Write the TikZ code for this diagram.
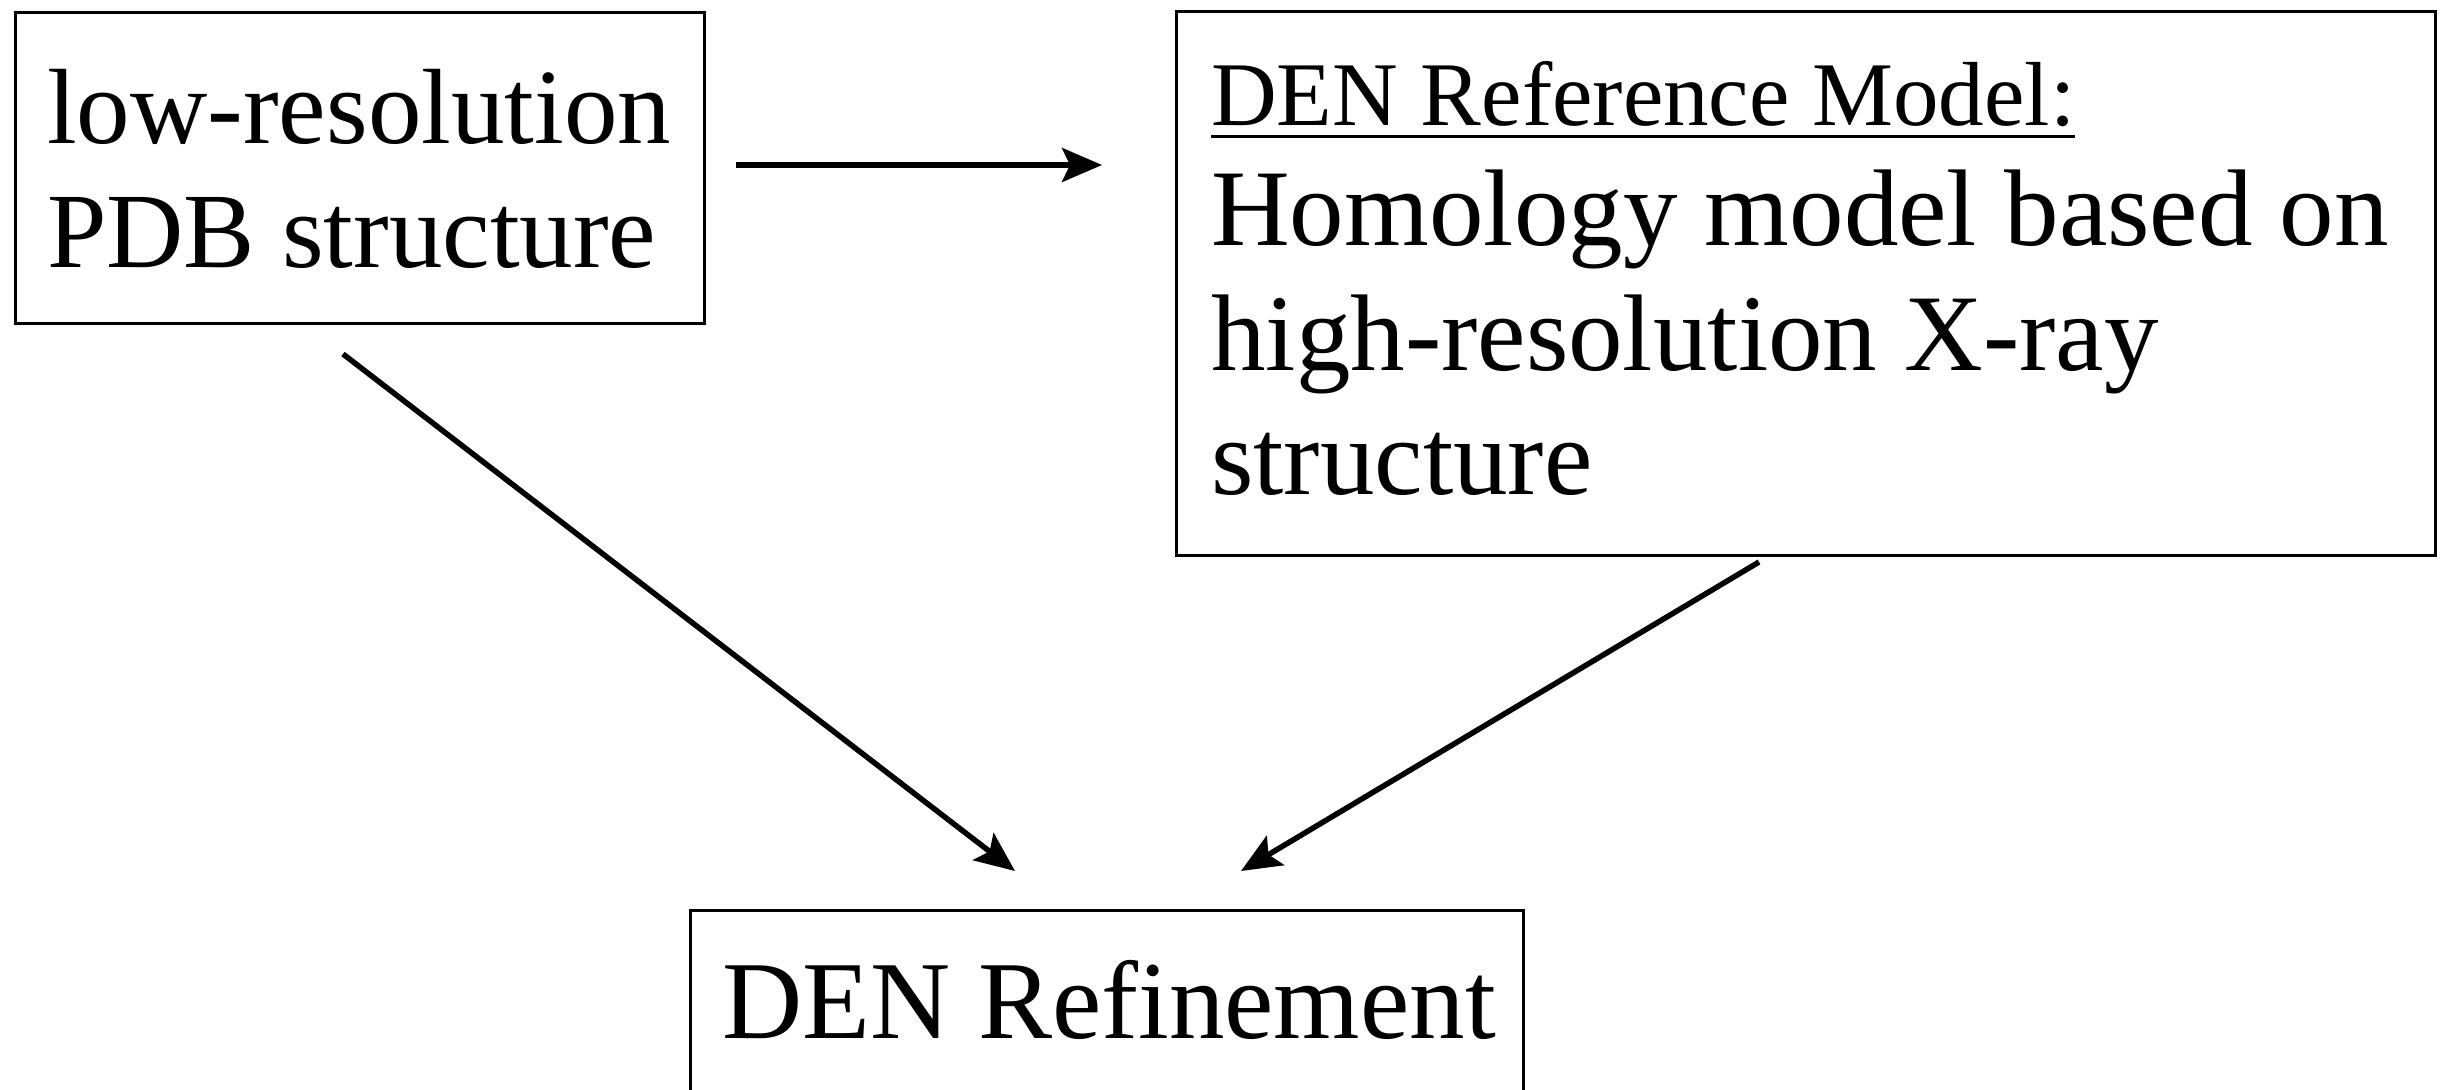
\documentclass[tikz,border=0pt]{standalone}
\usepackage{fontspec}
\setmainfont{Liberation Serif}
\usetikzlibrary{arrows.meta}
\newcommand{\myul}[1]{\setbox0\hbox{#1}\rlap{\copy0}\rule[-12pt]{\wd0}{3.5pt}}
\tikzset{
  box/.style={draw=black, line width=3pt, inner sep=0pt, rectangle},
  txt/.style={inner sep=0pt, anchor=base west},
  conn/.style={line width=5.5pt, -{Stealth[length=40pt,width=34pt,inset=8pt]}},
}
\begin{document}
\begin{tikzpicture}[x=1pt,y=-1pt]
\useasboundingbox (0,0) rectangle (2448,1089);
\clip (0,0) rectangle (2448,1089);
% boxes
\node[box, minimum width=689pt, minimum height=310pt] (b1) at (359.5,168) {};
\node[box, minimum width=1259pt, minimum height=544pt] (b2) at (1805.5,283.5) {};
\node[box, minimum width=833pt, minimum height=260pt] (b3) at (1106.5,1040) {};
% texts
\node[txt, font=\fontsize{107}{124.5}\selectfont] (t1) at (47,143)
  {\vtop{\hbox{low-resolution}\hbox{PDB structure}}};
\node[txt, font=\fontsize{91}{100}\selectfont] (t2h) at (1211,126) {\myul{DEN Reference Model:}};
\node[txt, font=\fontsize{109}{124.5}\selectfont] (t2) at (1211,245.5)
  {\vtop{\hbox{Homology model based on}\hbox{high-resolution X-ray}\hbox{structure}}};
\node[txt, font=\fontsize{111}{124.5}\selectfont] (t3) at (722,1038) {DEN Refinement};
% connector end points
\coordinate (a1s) at (736,165);
\coordinate (a1e) at (1102,165);
\coordinate (a2s) at (343,354);
\coordinate (a2e) at (1015,871);
\coordinate (a3s) at (1759,562);
\coordinate (a3e) at (1241,871);
\draw[conn] (a1s) -- (a1e);
\draw[conn] (a2s) -- (a2e);
\draw[conn] (a3s) -- (a3e);
\end{tikzpicture}
\end{document}
